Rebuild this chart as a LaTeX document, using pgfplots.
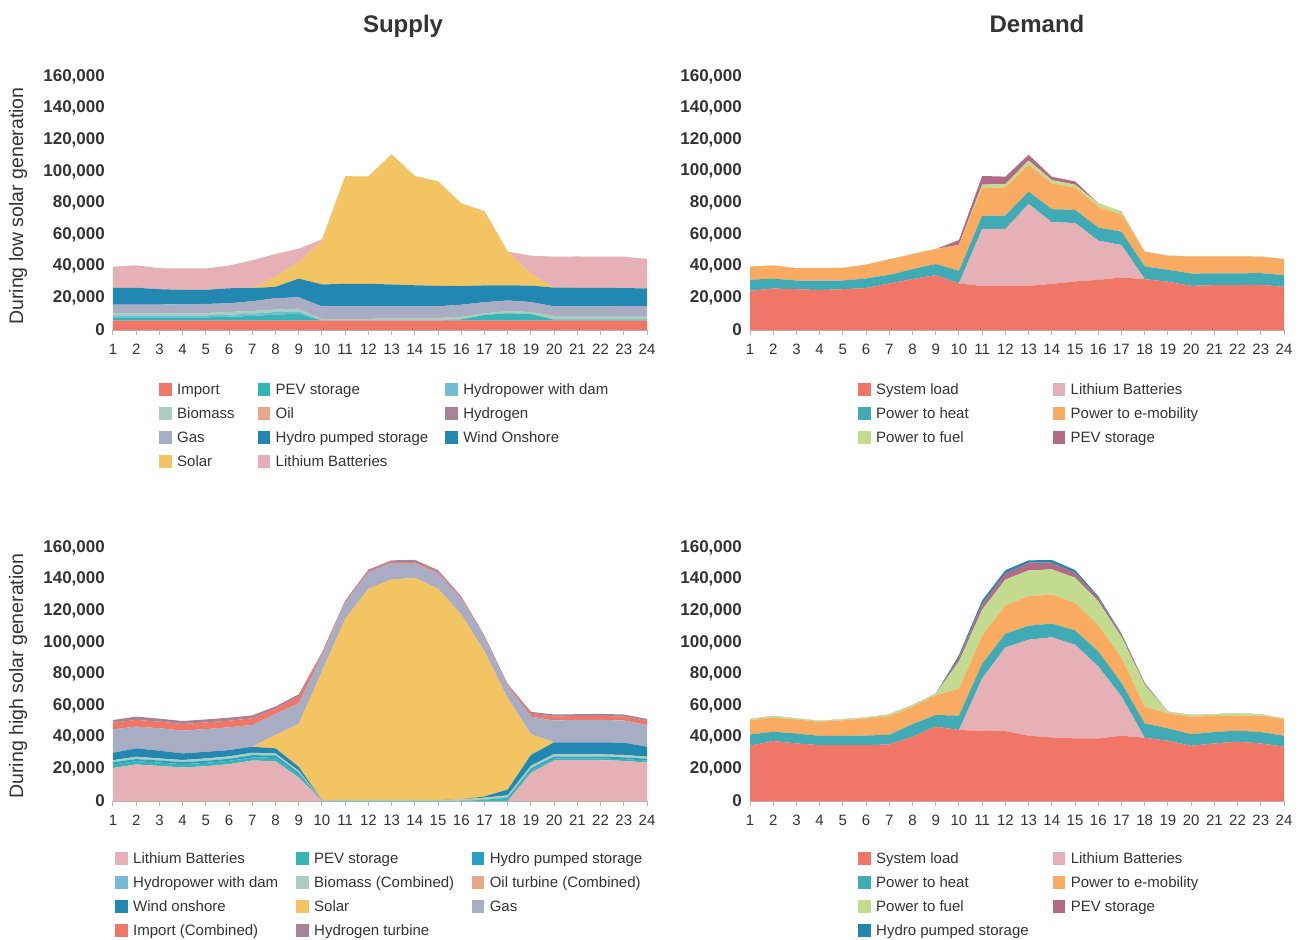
\documentclass[border=0pt]{standalone}
\usepackage{pgfplots}
\pgfplotsset{compat=1.18}
\usepackage{pgfplotstable}
\usepackage{fontspec}
\setmainfont{Liberation Sans}

\definecolor{cImport}{HTML}{F07767}
\definecolor{cPEV}{HTML}{35B5B5}
\definecolor{cDam}{HTML}{74BCD6}
\definecolor{cBio}{HTML}{AACDBF}
\definecolor{cOil}{HTML}{E8A88A}
\definecolor{cHtwo}{HTML}{A88398}
\definecolor{cGas}{HTML}{A8ADC4}
\definecolor{cPumped}{HTML}{2186B0}
\definecolor{cPumpedB}{HTML}{2A9FC4}
\definecolor{cWind}{HTML}{2287B1}
\definecolor{cSolar}{HTML}{F2C462}
\definecolor{cLith}{HTML}{E6B1B6}
\definecolor{cHeat}{HTML}{40AAB5}
\definecolor{cEmob}{HTML}{F8AB61}
\definecolor{cFuel}{HTML}{C2DB8F}
\definecolor{cPEVd}{HTML}{B06B86}
\definecolor{axisgray}{HTML}{B5B5B5}
\definecolor{txt}{HTML}{333333}

% hourly values, MW (low solar day)
\pgfplotstableread{
h Import PEV Dam Bio Oil Htwo Gas Pumped Wind Solar Lith
1 5900 2100 1300 1500 0 0 5300 0 10600 0 13300
2 5900 2100 1300 1500 0 0 5300 0 10600 0 14200
3 5900 2100 1300 1500 0 0 5300 0 9700 0 13300
4 5900 2100 1300 1500 0 0 5500 0 9100 0 13500
5 5900 2100 1300 1500 0 0 5700 0 8900 0 13500
6 5900 2500 1300 1700 0 0 5500 0 9500 0 14400
7 5900 3000 1500 1700 0 0 6100 0 8300 0 17600
8 5900 3800 1700 1500 0 0 7200 0 7200 6600 14200
9 5900 4400 1500 1700 0 0 7200 0 11800 10200 8700
10 5900 0 0 1100 0 0 8000 0 13800 27500 1000
11 5900 0 0 1100 0 0 8000 0 14200 68100 0
12 5900 0 0 1100 0 0 8000 0 14200 67900 0
13 5900 0 0 1700 0 0 7400 0 13800 82300 0
14 5900 0 0 1700 0 0 7400 0 13300 69100 0
15 5900 0 0 1700 0 0 7400 0 12900 66100 0
16 5900 800 0 1700 0 0 7600 0 11800 52300 0
17 5900 3600 0 1100 0 0 7000 0 10600 47000 0
18 5900 4700 0 1300 0 0 6800 0 9500 21400 0
19 5900 4200 0 1300 0 0 6300 0 10400 7400 11500
20 5900 600 400 2100 0 0 5900 0 11900 0 19600
21 5900 600 400 2100 0 0 5900 0 11800 0 19800
22 5900 600 400 2100 0 0 5900 0 11800 0 19700
23 5900 600 400 2100 0 0 6100 0 11400 0 19900
24 5900 600 400 2100 0 0 6100 0 11200 0 18700
}\lowsupply

\pgfplotstableread{
h Load Lith Heat Emob Fuel PEV
1 24800 0 7000 8300 0 0
2 26200 0 6300 8300 0 0
3 25800 0 5500 7800 0 0
4 25200 0 6100 7800 0 0
5 25800 0 5500 8000 0 0
6 26500 0 6100 8700 0 0
7 29400 0 5500 9700 0 0
8 32200 0 6300 9500 0 0
9 34700 0 7000 9500 0 0
10 29400 0 8000 16500 0 3000
11 27900 36000 8500 17400 2100 5500
12 27900 36000 8500 17800 2100 4700
13 27900 51800 7800 16900 2800 3600
14 29200 38900 8300 16300 2100 2100
15 30700 37000 8300 14200 1700 2100
16 31700 24800 8300 12900 2500 0
17 33200 20500 8500 10800 2100 0
18 32200 0 8000 9300 0 0
19 30500 0 7600 8900 0 0
20 27900 0 7800 10800 0 0
21 28400 0 7400 10800 0 0
22 28400 0 7400 10800 0 0
23 28600 0 7400 10400 0 0
24 27300 0 7400 10200 0 0
}\lowdemand

% hourly values, MW (high solar day)
\pgfplotstableread{
h Lith PEV Pumped Dam Bio Oil Wind Solar Gas Import Htwo
1 20900 2100 1500 0 1300 0 4700 0 14800 4200 1700
2 23100 2100 1300 0 1500 0 5300 0 13800 4200 2100
3 22200 2100 1300 0 1300 0 4900 0 14200 4200 1900
4 21200 2100 1300 0 1300 0 4200 0 14400 4200 1900
5 22000 2100 1300 0 1500 0 4200 0 14400 4200 1900
6 23300 2100 1300 0 1500 0 4000 0 14400 4200 1900
7 25600 1900 1500 0 1500 0 3800 0 13800 4200 1900
8 25200 2100 1500 0 1300 0 3200 8500 13300 3200 1500
9 14800 1700 1300 0 1300 0 2500 27100 13100 4200 1500
10 0 0 0 0 500 0 0 81400 9900 1300 800
11 0 0 0 0 500 0 0 114600 10200 800 600
12 0 0 0 0 500 0 0 133700 10200 600 1300
13 0 0 0 0 500 0 0 139600 10400 600 1100
14 0 0 0 0 500 0 0 140600 9300 600 1500
15 0 0 0 0 500 0 0 133700 9700 800 1300
16 0 0 0 0 1000 0 0 116900 9900 800 800
17 0 800 0 0 1300 0 800 91700 8500 600 800
18 0 2100 0 0 1500 0 3600 57800 7400 800 800
19 17800 1700 1100 0 1700 0 6800 13100 11200 1700 1300
20 25800 1100 1100 0 1700 0 7400 0 13800 2500 1300
21 25800 1100 1100 0 1700 0 7400 0 14200 2500 1100
22 25800 1100 1100 0 1500 0 7600 0 14200 2500 1300
23 25400 1100 1100 0 1500 0 7800 0 14000 2500 1300
24 24300 1300 1100 0 1300 0 6300 0 13800 2500 1300
}\highsupply

\pgfplotstableread{
h Load Lith Heat Emob Fuel PEV Pumped
1 34900 0 7200 9100 600 0 0
2 37900 0 5900 8900 1100 0 0
3 36400 0 6300 8900 600 0 0
4 35300 0 5900 8900 600 0 0
5 35300 0 5900 9900 600 0 0
6 35300 0 6100 10800 600 0 0
7 35800 0 6100 11800 1100 0 0
8 40600 0 8000 11000 1100 0 0
9 47000 0 7400 12300 1100 0 0
10 44900 0 9100 16900 17400 2500 1500
11 44400 33200 9100 17800 16500 3800 2100
12 44200 52900 8700 17800 16500 3800 2100
13 41300 60700 8900 18600 16300 4900 1500
14 40200 63300 8700 18400 15900 4200 1700
15 39600 59200 9100 17400 15900 3200 1700
16 39600 45500 9500 16500 15200 2100 1100
17 41300 24800 8500 15900 13300 1500 600
18 40000 0 9100 10600 13800 1100 0
19 38100 0 7800 9500 1100 0 0
20 34900 0 7400 11000 1100 0 0
21 36400 0 7200 10200 1100 0 0
22 37500 0 7000 9500 1500 0 0
23 36400 0 7200 10400 800 0 0
24 34300 0 7000 10400 400 0 0
}\highdemand

\pgfplotsset{
  ar/.style={fill=#1, draw=none},
  panel/.style={
    scale only axis, width=534pt, height=253pt,
    anchor=south west,
    xmin=1, xmax=24, ymin=0, ymax=160000,
    stack plots=y,
    axis x line*=bottom, axis y line*=left,
    x axis line style={draw=axisgray, line width=1pt, -},
    y axis line style={draw=none},
    xtick={1,2,3,4,5,6,7,8,9,10,11,12,13,14,15,16,17,18,19,20,21,22,23,24},
    xticklabels={1,2,3,4,5,6,7,8,9,10,11,12,13,14,15,16,17,18,19,20,21,22,23,24},
    ytick={0,20000,40000,60000,80000,100000,120000,140000,160000},
    yticklabels={0,{20,000},{40,000},{60,000},{80,000},{100,000},{120,000},{140,000},{160,000}},
    tick align=outside, major tick length=5pt,
    xtick style={draw=axisgray, line width=1pt},
    ytick style={draw=none},
    scaled y ticks=false,
    yticklabel style={font=\fontsize{17}{20}\selectfont\bfseries, text=txt,
      inner sep=0pt, xshift=-3pt, yshift=0.5pt},
    xticklabel style={font=\fontsize{15}{18}\selectfont, text=txt,
      inner sep=0pt, yshift=-8.5pt},
    legend cell align=left,
    legend image code/.code={\fill[##1] (0pt,-6.35pt) rectangle (12.7pt,6.35pt);},
    legend style={draw=none, fill=none, anchor=north west, inner sep=0pt,
      row sep=11.3pt, column sep=0pt,
      font=\fontsize{15}{18}\selectfont, text=txt,
      nodes={inner sep=0pt, text height=10.7pt, text depth=0pt},
      /tikz/every odd column/.style={column sep=5.3pt}},
  },
}

\begin{document}
\begin{tikzpicture}
\path[use as bounding box] (0pt,0pt) rectangle (1302pt,-940pt);

% low solar, supply
\begin{axis}[panel, at={(113pt,-330pt)}, legend columns=3,
  legend style={at={(0.0861,-0.2079)},
    /tikz/column 2/.style={column sep=23pt},
    /tikz/column 4/.style={column sep=17pt}}]
\addplot[ar=cImport] table[x=h,y=Import]{\lowsupply} \closedcycle;
\addplot[ar=cPEV] table[x=h,y=PEV]{\lowsupply} \closedcycle;
\addplot[ar=cDam] table[x=h,y=Dam]{\lowsupply} \closedcycle;
\addplot[ar=cBio] table[x=h,y=Bio]{\lowsupply} \closedcycle;
\addplot[ar=cOil] table[x=h,y=Oil]{\lowsupply} \closedcycle;
\addplot[ar=cHtwo] table[x=h,y=Htwo]{\lowsupply} \closedcycle;
\addplot[ar=cGas] table[x=h,y=Gas]{\lowsupply} \closedcycle;
\addplot[ar=cPumped] table[x=h,y=Pumped]{\lowsupply} \closedcycle;
\addplot[ar=cWind] table[x=h,y=Wind]{\lowsupply} \closedcycle;
\addplot[ar=cSolar] table[x=h,y=Solar]{\lowsupply} \closedcycle;
\addplot[ar=cLith] table[x=h,y=Lith]{\lowsupply} \closedcycle;
\legend{Import, PEV storage, Hydropower with dam, Biomass, Oil, Hydrogen,
  Gas, Hydro pumped storage, Wind Onshore, Solar, Lithium Batteries}
\end{axis}

% low solar, demand
\begin{axis}[panel, at={(750pt,-330pt)}, legend columns=2,
  legend style={at={(0.2022,-0.2079)},
    /tikz/column 2/.style={column sep=84pt}}]
\addplot[ar=cImport] table[x=h,y=Load]{\lowdemand} \closedcycle;
\addplot[ar=cLith] table[x=h,y=Lith]{\lowdemand} \closedcycle;
\addplot[ar=cHeat] table[x=h,y=Heat]{\lowdemand} \closedcycle;
\addplot[ar=cEmob] table[x=h,y=Emob]{\lowdemand} \closedcycle;
\addplot[ar=cFuel] table[x=h,y=Fuel]{\lowdemand} \closedcycle;
\addplot[ar=cPEVd] table[x=h,y=PEV]{\lowdemand} \closedcycle;
\legend{System load, Lithium Batteries, Power to heat, Power to e-mobility,
  Power to fuel, PEV storage}
\end{axis}

% high solar, supply
\begin{axis}[panel, at={(113pt,-801pt)}, legend columns=3,
  legend style={at={(0.0037,-0.2000)},
    /tikz/column 2/.style={column sep=18pt},
    /tikz/column 4/.style={column sep=17.5pt}}]
\addplot[ar=cLith] table[x=h,y=Lith]{\highsupply} \closedcycle;
\addplot[ar=cPEV] table[x=h,y=PEV]{\highsupply} \closedcycle;
\addplot[ar=cPumpedB] table[x=h,y=Pumped]{\highsupply} \closedcycle;
\addplot[ar=cDam] table[x=h,y=Dam]{\highsupply} \closedcycle;
\addplot[ar=cBio] table[x=h,y=Bio]{\highsupply} \closedcycle;
\addplot[ar=cOil] table[x=h,y=Oil]{\highsupply} \closedcycle;
\addplot[ar=cWind] table[x=h,y=Wind]{\highsupply} \closedcycle;
\addplot[ar=cSolar] table[x=h,y=Solar]{\highsupply} \closedcycle;
\addplot[ar=cGas] table[x=h,y=Gas]{\highsupply} \closedcycle;
\addplot[ar=cImport] table[x=h,y=Import]{\highsupply} \closedcycle;
\addplot[ar=cHtwo] table[x=h,y=Htwo]{\highsupply} \closedcycle;
\legend{Lithium Batteries, PEV storage, Hydro pumped storage,
  Hydropower with dam, Biomass (Combined), Oil turbine (Combined),
  Wind onshore, Solar, Gas, Import (Combined), Hydrogen turbine}
\end{axis}

% high solar, demand
\begin{axis}[panel, at={(750pt,-801pt)}, legend columns=2,
  legend style={at={(0.2022,-0.2000)},
    /tikz/column 2/.style={column sep=24pt}}]
\addplot[ar=cImport] table[x=h,y=Load]{\highdemand} \closedcycle;
\addplot[ar=cLith] table[x=h,y=Lith]{\highdemand} \closedcycle;
\addplot[ar=cHeat] table[x=h,y=Heat]{\highdemand} \closedcycle;
\addplot[ar=cEmob] table[x=h,y=Emob]{\highdemand} \closedcycle;
\addplot[ar=cFuel] table[x=h,y=Fuel]{\highdemand} \closedcycle;
\addplot[ar=cPEVd] table[x=h,y=PEV]{\highdemand} \closedcycle;
\addplot[ar=cPumped] table[x=h,y=Pumped]{\highdemand} \closedcycle;
\legend{System load, Lithium Batteries, Power to heat, Power to e-mobility,
  Power to fuel, PEV storage, Hydro pumped storage}
\end{axis}

\node[font=\fontsize{24}{28}\selectfont\bfseries, text=txt, anchor=base]
  at (403pt,-32pt) {Supply};
\node[font=\fontsize{24}{28}\selectfont\bfseries, text=txt, anchor=base]
  at (1037pt,-32pt) {Demand};
\node[font=\fontsize{19.5}{23}\selectfont, text=txt, rotate=90]
  at (18pt,-206pt) {During low solar generation};
\node[font=\fontsize{19.5}{23}\selectfont, text=txt, rotate=90]
  at (18pt,-676pt) {During high solar generation};
\end{tikzpicture}
\end{document}
